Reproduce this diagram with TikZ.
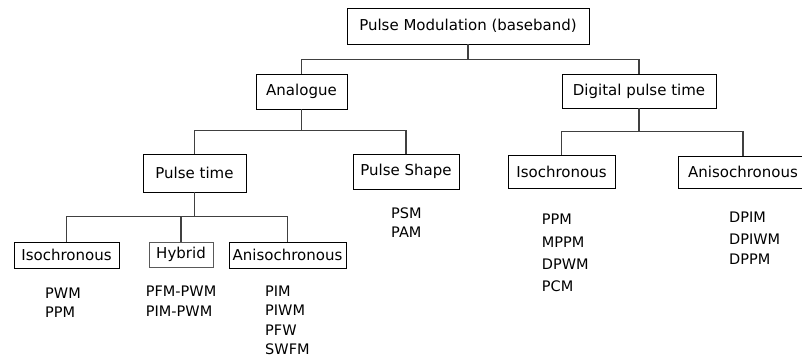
\documentclass[tikz,border=0pt]{standalone}
\usepackage{fontspec}
\setmainfont{DejaVu Sans}
\begin{document}
\begin{tikzpicture}[x=1pt,y=-1pt,
  box/.style={draw=black,line width=0.9pt,inner sep=0pt,align=center,
    font=\fontsize{15}{18}\selectfont},
  softbox/.style={box,draw=black!65},
  link/.style={draw=black!75,line width=1.4pt},
  item/.style={anchor=base west,inner sep=0pt,font=\fontsize{14.5}{17}\selectfont}]
\useasboundingbox (0,0) rectangle (802,356);
\clip (0,0) rectangle (802,356);
\fill[white] (0,0) rectangle (802,356);

% level 0
\node[box,minimum width=242pt,minimum height=36pt] (root) at (468,26) {Pulse Modulation (baseband)};
% level 1
\node[box,minimum width=91pt,minimum height=35pt] (analog) at (301.5,91.5) {Analogue};
\node[box,minimum width=154pt,minimum height=34pt] (digital) at (639,91) {Digital pulse time};
% level 2
\node[box,minimum width=103pt,minimum height=38pt] (ptime) at (194.5,173) {Pulse time};
\node[box,minimum width=106pt,minimum height=35pt] (pshape) at (406,171.5) {Pulse Shape};
\node[box,minimum width=107pt,minimum height=33pt] (disoch) at (561.5,171.5) {Isochronous};
\node[box,minimum width=130pt,minimum height=32pt] (danis) at (743,172) {Anisochronous};
% level 3
\node[box,minimum width=105pt,minimum height=26pt] (aisoch) at (66.5,255) {Isochronous};
\node[softbox,minimum width=64pt,minimum height=25pt] (hybrid) at (181,254.5) {Hybrid};
\node[box,minimum width=117pt,minimum height=26pt] (aanis) at (287.5,255) {Anisochronous};

% tree connectors
\draw[link] (root.south) -- ++(0,15) coordinate (r1);
\draw[link] (analog.north) |- (r1) -| (digital.north);
\draw[link] (analog.south) -- ++(0,21) coordinate (a1);
\draw[link] (ptime.north) |- (a1) -| (pshape.north);
\draw[link] (digital.south) -- ++(0,23) coordinate (d1);
\draw[link] (disoch.north) |- (d1) -| (danis.north);
\draw[link] (ptime.south) -- ++(0,24) coordinate (p1);
\draw[link] (aisoch.north) |- (p1) -| (aanis.north);
\draw[link] (hybrid.north) -- (hybrid.north |- p1);

% schemes under each class
\node[item] (pwm) at (45,298) {PWM};
\node[item] (ppma) at (45,317) {PPM};
\node[item] (pfmpwm) at (145.7,296.7) {PFM-PWM};
\node[item] (pimpwm) at (145.7,316) {PIM-PWM};
\node[item] (pim) at (265,296) {PIM};
\node[item] (piwm) at (265,315.5) {PIWM};
\node[item] (pfw) at (265,335) {PFW};
\node[item] (swfm) at (265,354) {SWFM};
\node[item] (psm) at (391,218) {PSM};
\node[item] (pam) at (391,237) {PAM};
\node[item] (ppmd) at (541.7,224) {PPM};
\node[item] (mppm) at (541.7,247.7) {MPPM};
\node[item] (dpwm) at (541.7,269) {DPWM};
\node[item] (pcm) at (541.7,291.7) {PCM};
\node[item] (dpim) at (729,222.7) {DPIM};
\node[item] (dpiwm) at (729,244) {DPIWM};
\node[item] (dppm) at (729,264.7) {DPPM};
\end{tikzpicture}
\end{document}
